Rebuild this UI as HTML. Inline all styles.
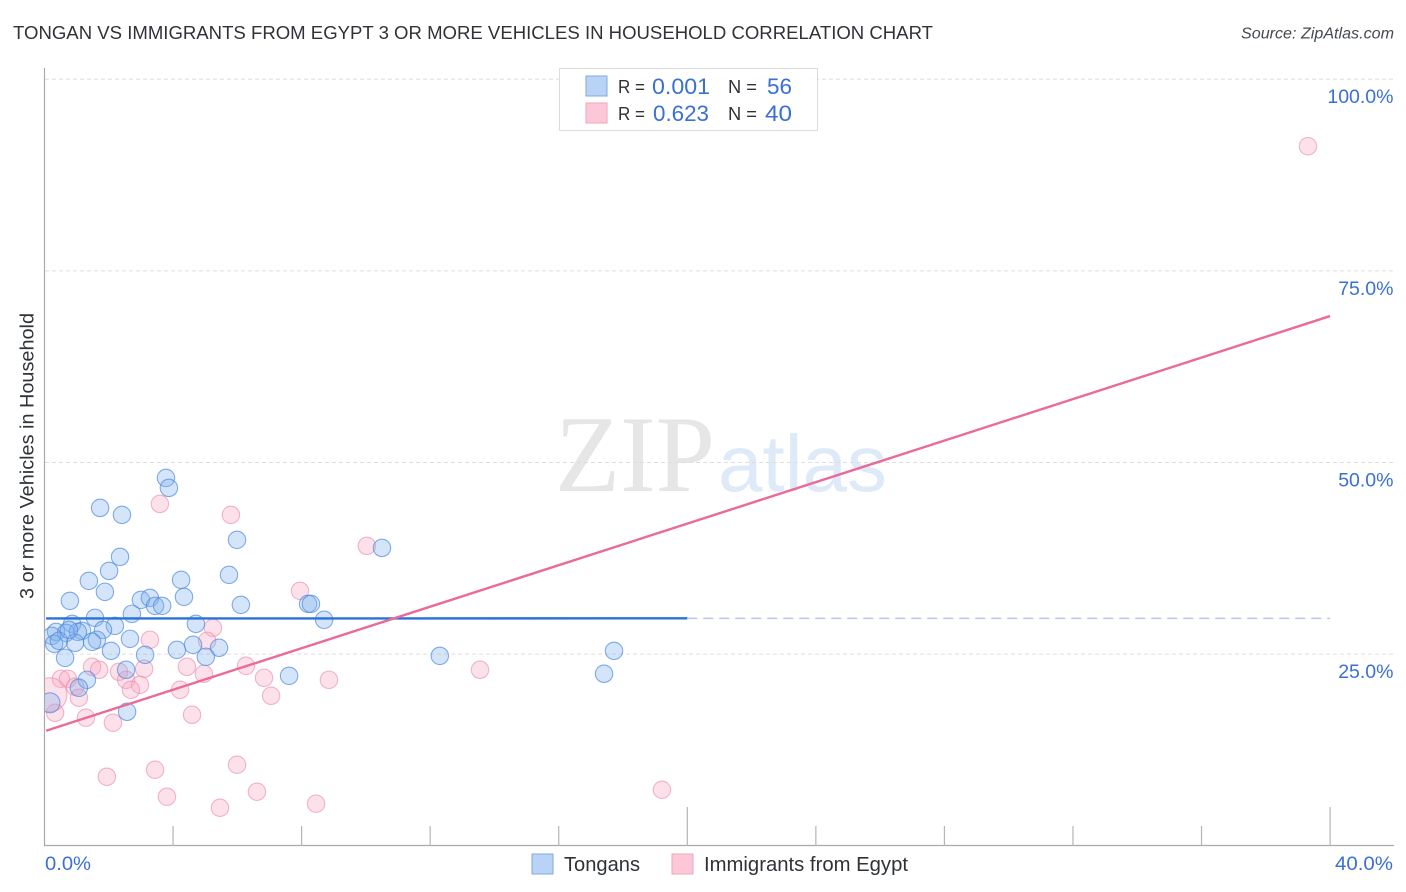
<!DOCTYPE html>
<html lang="en">
<head>
<meta charset="utf-8">
<title>Tongan vs Immigrants from Egypt 3 or More Vehicles in Household Correlation Chart</title>
<style>
html,body{margin:0;padding:0;background:#fff;width:1406px;height:892px;overflow:hidden}
svg{display:block}
text{font-family:"Liberation Sans",sans-serif}
</style>
</head>
<body>
<svg id="chart" width="1406" height="892" viewBox="0 0 1406 892" xmlns="http://www.w3.org/2000/svg">
<defs><clipPath id="plot-clip"><rect x="45" y="60" width="1349" height="786"/></clipPath></defs>
<text x="13" y="39" font-size="18.5" fill="#2f3338" textLength="920" lengthAdjust="spacingAndGlyphs">TONGAN VS IMMIGRANTS FROM EGYPT 3 OR MORE VEHICLES IN HOUSEHOLD CORRELATION CHART</text>
<text x="1241" y="38.5" font-size="15.5" font-style="italic" fill="#444a50" textLength="153" lengthAdjust="spacingAndGlyphs">Source: ZipAtlas.com</text>
<g>
<text x="555" y="491" font-size="109" fill="#e6e6e6" style="font-family:'Liberation Serif',serif" textLength="160" lengthAdjust="spacingAndGlyphs">ZIP</text>
<text x="718" y="491" font-size="80" fill="#deeaf8" textLength="169" lengthAdjust="spacingAndGlyphs">atlas</text>
</g>
<g id="grid"></g>
<g id="axes"></g>
<text transform="translate(33.5,599) rotate(-90)" font-size="19" fill="#2f3338" textLength="286" lengthAdjust="spacingAndGlyphs">3 or more Vehicles in Household</text>
<g id="points" clip-path="url(#plot-clip)"></g>
<g id="trends"></g>
<g>
<rect x="559.5" y="68.5" width="258" height="62" fill="#fff" fill-opacity="0.9" stroke="#dcdcdc"/>
<rect x="586" y="76" width="21" height="20" fill="#b9d3f5" stroke="#7eaae4"/>
<rect x="586" y="103" width="21" height="20" fill="#fcc8d8" stroke="#f2a3bc"/>
<text x="618" y="93" font-size="18" fill="#2f3338" textLength="27" lengthAdjust="spacingAndGlyphs">R =</text>
<text x="652" y="94" font-size="22" fill="#3a70d4" textLength="58" lengthAdjust="spacingAndGlyphs">0.001</text>
<text x="728" y="93" font-size="18" fill="#2f3338" textLength="29" lengthAdjust="spacingAndGlyphs">N =</text>
<text x="767" y="94" font-size="22" fill="#3a70d4" textLength="25" lengthAdjust="spacingAndGlyphs">56</text>
<text x="618" y="120" font-size="18" fill="#2f3338" textLength="27" lengthAdjust="spacingAndGlyphs">R =</text>
<text x="653" y="121" font-size="22" fill="#3a70d4" textLength="56" lengthAdjust="spacingAndGlyphs">0.623</text>
<text x="728" y="120" font-size="18" fill="#2f3338" textLength="29" lengthAdjust="spacingAndGlyphs">N =</text>
<text x="765" y="121" font-size="22" fill="#3a70d4" textLength="27" lengthAdjust="spacingAndGlyphs">40</text>
</g>
<g>
<rect x="532" y="854" width="21" height="20" fill="#b9d3f5" stroke="#7eaae4"/>
<text x="564" y="871" font-size="20" fill="#2f3338" textLength="76" lengthAdjust="spacingAndGlyphs">Tongans</text>
</g>
<g>
<rect x="672" y="854" width="21" height="20" fill="#fcc8d8" stroke="#f2a3bc"/>
<text x="704" y="871" font-size="20" fill="#2f3338" textLength="204" lengthAdjust="spacingAndGlyphs">Immigrants from Egypt</text>
</g>
</svg>
<script>
const tonganX = [3.78,3.87,1.73,2.41,5.99,10.50,2.35,2.01,5.74,1.38,4.25,1.88,0.79,4.34,3.00,3.28,3.44,3.66,6.11,2.72,1.57,8.20,8.29,8.70,4.71,2.19,0.36,0.86,1.82,1.17,0.67,0.23,1.04,1.63,1.48,0.95,0.30,2.66,0.45,2.07,4.12,4.62,5.43,3.13,5.02,0.64,12.30,17.72,2.54,7.61,17.41,1.32,1.07,0.17,2.57,0.76];
const tonganY = [47.98,46.68,44.07,43.16,39.90,38.85,37.68,35.85,35.33,34.55,34.68,33.12,31.94,32.46,32.07,32.33,31.29,31.29,31.42,30.25,29.73,31.55,31.55,29.47,28.94,28.68,27.90,28.94,28.16,28.03,27.77,27.38,27.90,26.86,26.60,26.47,26.34,26.99,26.73,25.42,25.55,26.21,25.82,24.90,24.64,24.51,24.77,25.42,22.95,22.16,22.43,21.64,20.60,18.64,17.47,28.16];
const egyptX = [39.31,3.59,5.80,10.03,7.95,5.24,5.06,3.28,6.27,6.83,7.05,8.85,13.55,4.43,4.96,4.22,4.59,3.10,2.32,2.54,2.97,2.69,1.48,1.70,0.51,0.73,0.95,1.07,1.29,2.13,0.33,0.17,1.94,3.44,5.99,6.61,3.81,5.46,8.45,19.21];
const egyptY = [91.26,44.59,43.16,39.11,33.25,28.42,26.73,26.86,23.47,21.90,19.56,21.64,22.95,23.34,22.43,20.34,17.08,23.08,22.69,21.64,20.99,20.34,23.34,22.95,21.77,21.77,20.73,19.30,16.69,16.04,17.34,19.69,9.00,9.91,10.56,7.04,6.39,4.95,5.48,7.30];
const tonganTrendX = [0.05,20];
const tonganTrendY = [29.65,29.66];
const tonganTrendDashX = [20,40];
const tonganTrendDashY = [29.66,29.66];
const egyptTrendX = [0.05,40];
const egyptTrendY = [15.0,69.1];
const xTicks = [0,4,8,12,16,20,24,28,32,36,40];
const xMajorTicks = [20,40];
const xTickLabels = ["0.0%","40.0%"];
const yTicks = [25,50,75,100];
const yTickLabels = ["25.0%","50.0%","75.0%","100.0%"];

const SVGNS = 'http://www.w3.org/2000/svg';
const xScale = v => 44.5 + v * 32.14;
const yScale = v => 845.7 - v * 7.665;
function make(tag, parent, attrs) {
  const el = document.createElementNS(SVGNS, tag);
  for (const k in attrs) el.setAttribute(k, attrs[k]);
  parent.appendChild(el);
  return el;
}
const grid = document.getElementById('grid');
const axes = document.getElementById('axes');
const pts = document.getElementById('points');
const trends = document.getElementById('trends');

yTicks.forEach((t, i) => {
  const line = make('line', grid, {x1: 45, x2: 1394, y1: yScale(t), y2: yScale(t), stroke: '#dedede', 'stroke-width': 1, 'stroke-dasharray': '4 3'});
  
  
  const label = make('text', axes, {x: 1393.5, y: yScale(t) + 24, 'font-size': 19.5, fill: '#3a70d4', 'text-anchor': 'end'});
  label.textContent = yTickLabels[i];
  
  
});

const yAxisLine = make('line', axes, {x1: 44.5, x2: 44.5, y1: 68, y2: 846, stroke: '#aaaaaa', 'stroke-width': 1.2});


const xAxisLine = make('line', axes, {x1: 44, x2: 1394, y1: 845.5, y2: 845.5, stroke: '#aaaaaa', 'stroke-width': 1.2});



xTicks.slice(1).forEach(t => {
  const top = xMajorTicks.includes(t) ? 807 : 826;
  const tick = make('line', axes, {x1: xScale(t), x2: xScale(t), y1: top, y2: 846, stroke: '#b5b5b5', 'stroke-width': 1.2});
  
  
});
const xLabel0 = make('text', axes, {x: 45, y: 870, 'font-size': 19.5, fill: '#3a70d4', textLength: 46, lengthAdjust: 'spacingAndGlyphs'});
xLabel0.textContent = xTickLabels[0];


const xLabel1 = make('text', axes, {x: 1335, y: 870, 'font-size': 19.5, fill: '#3a70d4', textLength: 58, lengthAdjust: 'spacingAndGlyphs'});
xLabel1.textContent = xTickLabels[1];



const BASE_R = 8.7;
const tonganLargeIndex = 53;
const egyptLargeIndex = 31;

egyptX.forEach((x, i) => {
  const c = make('circle', pts, {cx: xScale(x), cy: yScale(egyptY[i]), r: i === egyptLargeIndex ? 17 : BASE_R, fill: '#f8a8c0', 'fill-opacity': 0.34, stroke: '#ea8fae', 'stroke-opacity': 0.65, 'stroke-width': 1.1});
  
  
});
tonganX.forEach((x, i) => {
  const c = make('circle', pts, {cx: xScale(x), cy: yScale(tonganY[i]), r: i === tonganLargeIndex ? 10 : BASE_R, fill: '#7fb0ee', 'fill-opacity': 0.33, stroke: '#4f8ae0', 'stroke-opacity': 0.7, 'stroke-width': 1.1});
  
  
});

const tonganSolid = make('line', trends, {x1: xScale(tonganTrendX[0]), y1: yScale(tonganTrendY[0]), x2: xScale(tonganTrendX[1]), y2: yScale(tonganTrendY[1]), stroke: '#2a72d6', 'stroke-width': 2.4});


const tonganDash = make('line', trends, {x1: xScale(tonganTrendDashX[0]), y1: yScale(tonganTrendDashY[0]), x2: xScale(tonganTrendDashX[1]), y2: yScale(tonganTrendDashY[1]), stroke: '#b9c8e8', 'stroke-width': 1.5, 'stroke-dasharray': '10 6'});


const egyptTrend = make('line', trends, {x1: xScale(egyptTrendX[0]), y1: yScale(egyptTrendY[0]), x2: xScale(egyptTrendX[1]), y2: yScale(egyptTrendY[1]), stroke: '#ea6a9a', 'stroke-width': 2.4});


</script>
</body>
</html>
